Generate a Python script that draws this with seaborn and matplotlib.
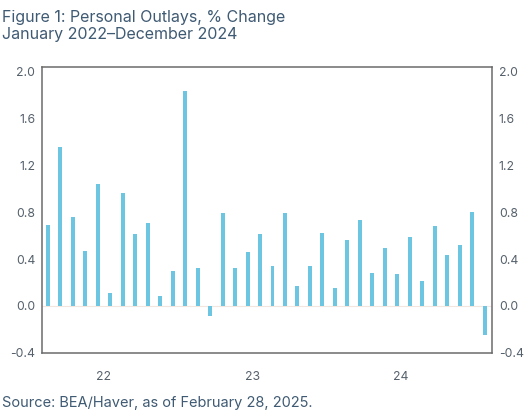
import pandas as pd
import matplotlib.pyplot as plt
import seaborn as sns

# Personal outlays, monthly % change, Jan 2022 - Dec 2024
months = pd.date_range("2022-01-01", "2024-12-01", freq="MS").strftime("%b %Y").tolist()
pct_change = [0.69, 1.36, 0.76, 0.47, 1.04, 0.11, 0.96, 0.61, 0.71, 0.085, 0.30, 1.83,
              0.32, -0.09, 0.79, 0.32, 0.46, 0.61, 0.34, 0.79, 0.17, 0.34, 0.62, 0.15,
              0.56, 0.73, 0.28, 0.49, 0.27, 0.59, 0.21, 0.68, 0.43, 0.52, 0.80, -0.25]
y_ticks = [-0.4, 0.0, 0.4, 0.8, 1.2, 1.6, 2.0]
year_labels = ["22", "23", "24"]
year_label_pos = [4.5, 16.4, 28.3]
year_tick_pos = [-0.35, 10.55, 22.4, 34.55]

sns.set_theme(style="white")
plt.rcParams["font.family"] = ["Inter", "DejaVu Sans"]

text_col = "#3f5a73"
tick_col = "#55606b"
bar_col = "#6cc6e2"

df = pd.DataFrame({"idx": range(len(pct_change)), "month": months, "value": pct_change})

fig = plt.figure(figsize=(5.26, 4.15), dpi=100)
ax = fig.add_axes([0.080, 0.150, 0.855, 0.689])

sns.barplot(data=df, x="idx", y="value", native_scale=True, color=bar_col,
            width=0.32, saturation=1, linewidth=0, ax=ax)
ax.axhline(0, color="#f3e6df", lw=0.8, zorder=0)

ax.set_xlim(-0.46, 35.57)
ax.set_ylim(-0.4, 2.04)
ax.set_yticks(y_ticks)
ax.set_yticklabels([f"{t:.1f}" for t in y_ticks])
ax.tick_params(axis="y", which="both", length=0, labelsize=8.8, colors=tick_col,
               labelleft=True, labelright=True, pad=5)
ax.set_xticks(year_tick_pos)
ax.set_xticklabels([])
ax.set_xticks(year_label_pos, minor=True)
ax.set_xticklabels(year_labels, minor=True)
ax.tick_params(axis="x", which="major", length=9, width=0.8, color="#d9d9d9",
               direction="out", pad=0)
ax.tick_params(axis="x", which="minor", length=0, labelsize=8.8, colors=tick_col, pad=13)
ax.set_xlabel("")
ax.set_ylabel("")

for s in ax.spines.values():
    s.set_color("#6b6b6b")
    s.set_linewidth(1.1)

fig.text(0.003, 0.975, "Figure 1: Personal Outlays, % Change\nJanuary 2022\u2013December 2024",
         ha="left", va="top", fontsize=11.5, color=text_col, linespacing=1.1)
fig.text(0.003, 0.012, "Source: BEA/Haver, as of February 28, 2025.",
         ha="left", va="bottom", fontsize=10.5, color=text_col)

fig.savefig("out.png", dpi=100)
